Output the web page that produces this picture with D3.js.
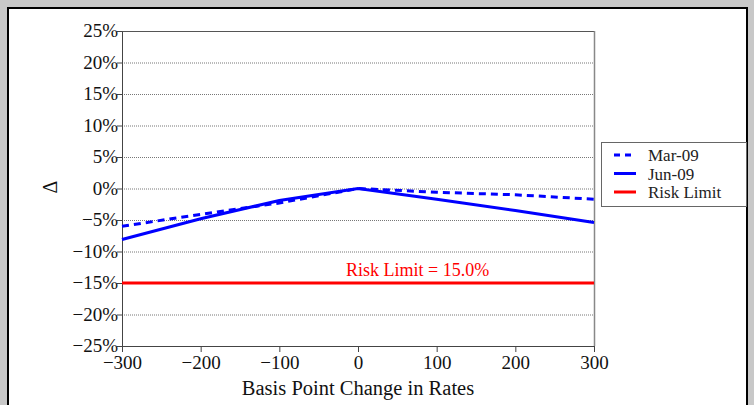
<!DOCTYPE html>
<html><head><meta charset="utf-8">
<script src="https://cdn.jsdelivr.net/npm/d3@7"></script>
<style>
html,body{margin:0;padding:0;background:#c8c8c8;}
svg{display:block;}
text{font-family:"Liberation Serif","DejaVu Serif",serif;}
</style></head>
<body>
<svg id="chart" width="754" height="405"></svg>
<script>
const bpChanges = [-300, -200, -100, 0, 100, 200, 300];
const mar09 = [-6.0, -4.1, -2.3, 0, -0.6, -1.0, -1.7];
const jun09 = [-8.1, -4.8, -1.9, 0, -1.7, -3.5, -5.4];
const riskLimit = [-15, -15, -15, -15, -15, -15, -15];
const yTicks = [-25, -20, -15, -10, -5, 0, 5, 10, 15, 20, 25];
const xTicks = [-300, -200, -100, 0, 100, 200, 300];
const seriesNames = ["Mar-09", "Jun-09", "Risk Limit"];

const svg = d3.select("#chart");
// panel
svg.append("rect").attr("x", 8).attr("y", 8).attr("width", 739).attr("height", 420)
  .attr("fill", "#fff").attr("stroke", "#000").attr("stroke-width", 2);

const x = d3.scaleLinear().domain([-300, 300]).range([122, 594]);
const y = d3.scaleLinear().domain([-25, 25]).range([346, 31]);

// gridlines
const grid = svg.append("g");
grid.selectAll("line").data(yTicks.filter(t => t > -25 && t < 25)).join("line")
  .attr("x1", x(-300)).attr("x2", x(300))
  .attr("y1", d => y(d) + 0.5).attr("y2", d => y(d) + 0.5)
  .attr("stroke", "#777").attr("stroke-width", 1).attr("stroke-dasharray", "1,1");
// frame top and right
svg.append("line").attr("x1", x(-300)).attr("x2", x(300)).attr("y1", y(25) + 0.5).attr("y2", y(25) + 0.5)
  .attr("stroke", "#555");
svg.append("line").attr("x1", x(300) + 0.5).attr("x2", x(300) + 0.5).attr("y1", y(25)).attr("y2", y(-25))
  .attr("stroke", "#888").attr("stroke-width", 1.5);

// axes
const yAxis = d3.axisLeft(y).tickValues(yTicks).tickSize(5).tickSizeOuter(0)
  .tickFormat(d => (d < 0 ? "\u2212" + Math.abs(d) : d) + "%");
const gy = svg.append("g").attr("transform", `translate(${x(-300)},0)`).call(yAxis);
gy.select(".domain").attr("stroke", "#444");
gy.selectAll(".tick line").attr("stroke", "#444");
gy.selectAll("text").attr("font-size", 19).attr("fill", "#111").attr("x", -4).attr("dy", "0.3em");

const xAxis = d3.axisBottom(x).tickValues(xTicks).tickSize(6).tickSizeOuter(0)
  .tickFormat(d => d < 0 ? "\u2212" + Math.abs(d) : d);
const gx = svg.append("g").attr("transform", `translate(0,${y(-25)})`).call(xAxis);
gx.select(".domain").attr("stroke", "#444");
gx.selectAll(".tick line").attr("stroke", "#444");
gx.selectAll("text").attr("font-size", 19).attr("fill", "#111").attr("y", 9).attr("dy", "0.72em");

// axis titles
svg.append("text").attr("x", 358).attr("y", 395).attr("text-anchor", "middle")
  .attr("font-size", 20.5).attr("fill", "#111").text("Basis Point Change in Rates");
svg.append("text").attr("transform", "translate(57,187) rotate(-90)").attr("text-anchor", "middle")
  .attr("font-size", 20).attr("fill", "#111").text("\u0394");

// lines
const line = d3.line().x((d, i) => x(bpChanges[i])).y(d => y(d));
svg.append("path").datum(riskLimit).attr("d", line).attr("fill", "none")
  .attr("stroke", "#ff0000").attr("stroke-width", 3);
svg.append("path").datum(mar09).attr("d", line).attr("fill", "none")
  .attr("stroke", "#0000ff").attr("stroke-width", 3).attr("stroke-dasharray", "7,5");
svg.append("path").datum(jun09).attr("d", line).attr("fill", "none")
  .attr("stroke", "#0000ff").attr("stroke-width", 3);

svg.append("text").attr("x", 346).attr("y", 276).attr("font-size", 18).attr("fill", "#ff0000")
  .text("Risk Limit = " + Math.abs(riskLimit[0]).toFixed(1) + "%");

// legend
const lg = svg.append("g");
lg.append("rect").attr("x", 601.5).attr("y", 142.5).attr("width", 145).attr("height", 64)
  .attr("fill", "#fff").attr("stroke", "#666");
const styles = [{c: "#0000ff", dash: "6,5"}, {c: "#0000ff", dash: null}, {c: "#ff0000", dash: null}];
seriesNames.forEach((n, i) => {
  const yy = 155 + i * 18.5;
  lg.append("line").attr("x1", 614).attr("x2", 636).attr("y1", yy).attr("y2", yy)
    .attr("stroke", styles[i].c).attr("stroke-width", 3).attr("stroke-dasharray", styles[i].dash);
  lg.append("text").attr("x", 648).attr("y", yy + 6).attr("font-size", 17).attr("fill", "#222").text(n);
});
</script>
</body></html>
